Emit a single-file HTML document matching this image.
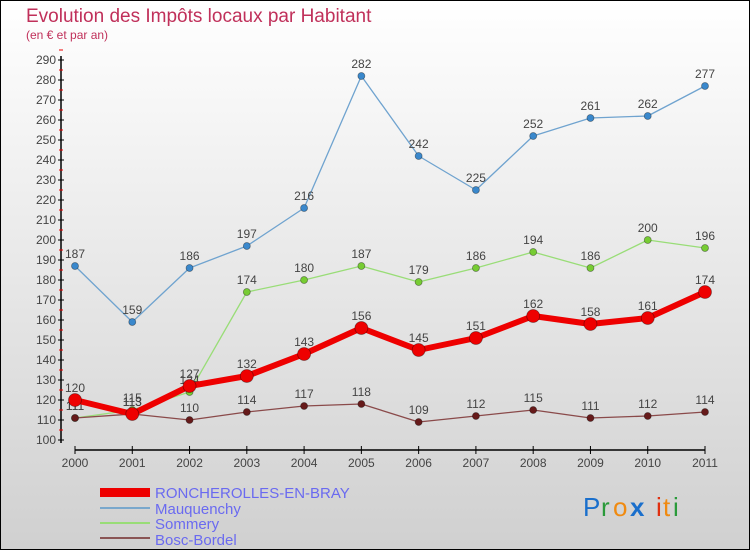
<!DOCTYPE html>
<html><head><meta charset="utf-8"><style>
body{margin:0}
#c{width:750px;height:550px;position:relative;box-sizing:border-box;border:1px solid #000;background:linear-gradient(#ffffff,#d0d0d0);font-family:"Liberation Sans",sans-serif;overflow:hidden}
</style></head><body>
<div id="c">
<svg id="s" width="750" height="550" style="position:absolute;left:-1px;top:-1px">
<text x="26" y="22" font-size="19" fill="#c0305a">Evolution des Impôts locaux par Habitant</text>
<text x="26" y="39" font-size="12" fill="#c0305a">(en € et par an)</text>
<g id="axes"></g><g id="series"></g>
<g>
<rect x="100" y="488" width="50" height="9" fill="#e00"/>
<text x="155" y="498" font-size="15" fill="#6a6af0">RONCHEROLLES-EN-BRAY</text>
<line x1="100" y1="508" x2="150" y2="508" stroke="#7aa8cc" stroke-width="2"/>
<text x="155" y="514" font-size="15" fill="#6a6af0">Mauquenchy</text>
<line x1="100" y1="523" x2="150" y2="523" stroke="#99dd77" stroke-width="2"/>
<text x="155" y="529" font-size="15" fill="#6a6af0">Sommery</text>
<line x1="100" y1="538" x2="150" y2="538" stroke="#8a5555" stroke-width="2"/>
<text x="155" y="545" font-size="15" fill="#6a6af0">Bosc-Bordel</text>
</g>
<g font-size="26" font-family="Liberation Sans,sans-serif">
<text x="583" y="516" fill="#1a6fcc">P</text><text x="601" y="516" fill="#2a9a3a">r</text><text x="613" y="516" fill="#f08a10">o</text><text x="630" y="516" fill="#1a6fcc" font-weight="bold">x</text><text x="656" y="516" fill="#e03010">i</text><text x="663" y="516" fill="#f08a10">t</text><text x="673" y="516" fill="#2a9a3a">i</text>
</g>
</svg>
</div>
<script>
const years=["2000","2001","2002","2003","2004","2005","2006","2007","2008","2009","2010","2011"];
const roncherolles=[120,113,127,132,143,156,145,151,162,158,161,174];
const mauquenchy=[187,159,186,197,216,282,242,225,252,261,262,277];
const sommery=[111,115,124,174,180,187,179,186,194,186,200,196];
const boscBordel=[111,113,110,114,117,118,109,112,115,111,112,114];
const yTicks=[100,110,120,130,140,150,160,170,180,190,200,210,220,230,240,250,260,270,280,290];
const NS="http://www.w3.org/2000/svg";
function X(i){return 75+i*(630/11);}
function Y(v){return 440-(v-100)*2;}
function mk(p,t,a){const e=document.createElementNS(NS,t);for(const k in a)e.setAttribute(k,a[k]);p.appendChild(e);return e;}
const ax=document.getElementById('axes');
const yl=mk(ax,'line',{x1:61,y1:56,x2:61,y2:443,stroke:'#000','stroke-width':1.5});


yTicks.forEach(v=>{
 mk(ax,'line',{x1:58,y1:Y(v),x2:64,y2:Y(v),stroke:'#000'});
 mk(ax,'line',{x1:59,y1:Y(v)-10,x2:63,y2:Y(v)-10,stroke:'#e00'});
 const t=mk(ax,'text',{x:56,y:Y(v)+4,'font-size':12,'text-anchor':'end',fill:'#444'});t.textContent=v;
 
 
});
const xl=mk(ax,'line',{x1:75,y1:450,x2:X(11),y2:450,stroke:'#000','stroke-width':1.5});


years.forEach((y,i)=>{
 mk(ax,'line',{x1:X(i),y1:446,x2:X(i),y2:454,stroke:'#000'});
 const t=mk(ax,'text',{x:X(i),y:467,'font-size':12,'text-anchor':'middle',fill:'#444'});t.textContent=y;
 
 
});
const sg=document.getElementById('series');
function draw(name,data,col,w,r,dot){
 const g=mk(sg,'g',{});
 
 
 mk(g,'polyline',{points:data.map((v,i)=>X(i)+','+Y(v)).join(' '),fill:'none',stroke:col,'stroke-width':w,'stroke-linejoin':'round'});
 data.forEach((v,i)=>{
  const c=mk(g,'circle',{cx:X(i),cy:Y(v),r:r,fill:dot,stroke:'rgba(0,0,0,0.4)','stroke-width':0.8});
  
  
  const t=mk(g,'text',{x:X(i),y:Y(v)-8,'font-size':12,'text-anchor':'middle',fill:'#444'});t.textContent=v;
  
  
 });
}
draw('mauquenchy',mauquenchy,'#6fa3cf',1.3,3.5,'#3a88cc');
draw('sommery',sommery,'#99dd77',1.3,3.5,'#77cc33');
draw('bosc-bordel',boscBordel,'#8a4a4a',1.3,3.5,'#661a1a');
draw('roncherolles',roncherolles,'#ee0000',6,6.5,'#ee0000');
</script>
</body></html>
